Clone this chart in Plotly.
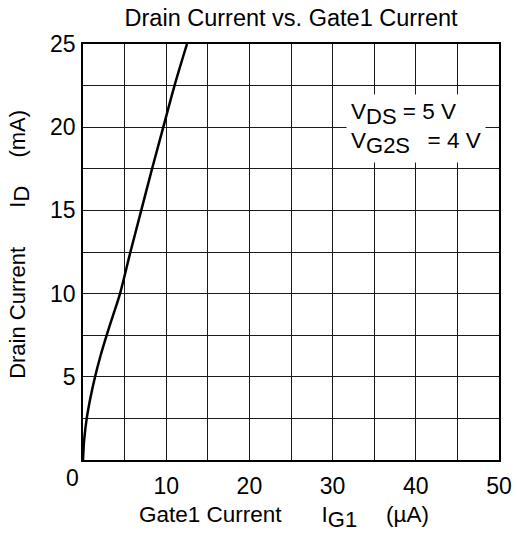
import plotly.graph_objects as go

# Gate1 current (uA) vs drain current (mA)
ig1_ua = [0, 0.05, 0.15, 0.45, 0.9, 1.45, 2.1, 2.85, 3.65, 4.45, 5.7, 7.0, 8.3, 9.65, 11.0, 12.5]
id_ma = [0, 0.5, 1.25, 2.5, 3.75, 5, 6.25, 7.5, 8.75, 10, 12.5, 15, 17.5, 20, 22.5, 25]

x_ticks = [10, 20, 30, 40, 50]
y_ticks = [5, 10, 15, 20, 25]

FONT = "Liberation Sans, Arial, sans-serif"
GRID = "#1a1a1a"

fig = go.Figure()
fig.add_trace(go.Scatter(
    x=ig1_ua, y=id_ma,
    mode="lines",
    line=dict(color="#000000", width=2.5, shape="spline", smoothing=1.0),
    showlegend=False,
    hoverinfo="skip",
))

fig.update_layout(
    width=517, height=533,
    paper_bgcolor="white", plot_bgcolor="white",
    margin=dict(l=83, r=18, t=44, b=73),
    font=dict(family=FONT, size=22, color="#000000"),
    title=dict(
        text="Drain Current vs. Gate1 Current",
        x=0.563, xanchor="center", y=0.966, yanchor="middle",
        font=dict(size=23.5),
    ),
)

fig.update_xaxes(
    range=[0, 50],
    tickmode="array", tickvals=x_ticks,
    showgrid=True, gridcolor=GRID, gridwidth=1,
    minor=dict(dtick=5, tick0=0, showgrid=True, gridcolor=GRID, gridwidth=1),
    showline=True, linecolor="#000000", linewidth=1.5, mirror=True,
    zeroline=False, ticks="", ticklabelstandoff=5, automargin=False,
    tickfont=dict(size=23),
)

fig.update_yaxes(
    range=[0, 25],
    tickmode="array", tickvals=y_ticks,
    showgrid=True, gridcolor=GRID, gridwidth=1,
    minor=dict(dtick=2.5, tick0=0, showgrid=True, gridcolor=GRID, gridwidth=1),
    showline=True, linecolor="#000000", linewidth=1.5, mirror=True,
    zeroline=False, ticks="", ticklabelstandoff=1, automargin=False,
    tickfont=dict(size=23),
)

# axis titles as annotations so they sit where the original has them
fig.add_annotation(
    x=0.483, y=-0.138, xref="paper", yref="paper",
    text=("Gate1 Current\u2003\u2002 I<sub><span style='font-size:22px'>G1</span></sub>"
          "\u2003 (\u00b5A)"),
    showarrow=False, xanchor="center", yanchor="middle",
    font=dict(size=22.5),
)
fig.add_annotation(
    x=-0.152, y=0.519, xref="paper", yref="paper",
    text=("Drain Current\u2003\u2002 I<sub><span style='font-size:22px'>D</span></sub>"
          "\u2003 (mA)"),
    textangle=-90,
    showarrow=False, xanchor="center", yanchor="middle",
    font=dict(size=22),
)

# shared origin label
fig.add_annotation(
    x=0, y=0, xref="x", yref="y", text="0",
    showarrow=False, xanchor="center", yanchor="top",
    xshift=-11, yshift=-3, font=dict(size=23),
)

# bias conditions box
fig.add_annotation(
    x=0.968, y=0.796, xref="paper", yref="paper",
    text=("V<sub><span style='font-size:22px'>DS</span></sub> = 5 V<br>"
          "V<sub><span style='font-size:22px'>G2S</span></sub>\u2002 = 4 V"),
    showarrow=False, xanchor="right", yanchor="middle",
    align="left", bgcolor="white", borderpad=4,
    font=dict(size=22.5),
)

# drop the default page margin so the figure fills the window exactly
fig.write_html(
    "out.html",
    config={"displayModeBar": False},
    post_script="document.body.style.margin='0px';",
)
